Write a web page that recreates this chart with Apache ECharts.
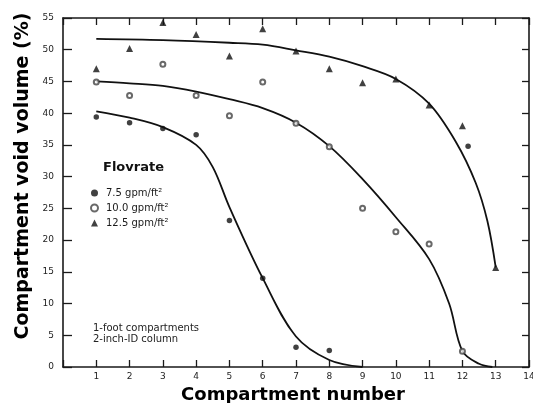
<!DOCTYPE html>
<html>
<head>
<meta charset="utf-8">
<script src="https://cdn.jsdelivr.net/npm/echarts@6/dist/echarts.min.js"></script>
<style>
  html, body { margin: 0; padding: 0; background: #fff; }
  #chart { width: 533px; height: 403px; }
</style>
</head>
<body>
<div id="chart"></div>
<script>
'use strict';

// flow rates (legend)
var seriesNames = ['7.5 gpm/ft\u00b2', '10.0 gpm/ft\u00b2', '12.5 gpm/ft\u00b2'];

// measured points [compartment, void volume %]
var pts75 = [[1, 39.4], [2, 38.5], [3, 37.6], [4, 36.6], [5, 23.1], [6, 14.0], [7, 3.1], [8, 2.6], [12.17, 34.8]];
var pts100 = [[1, 44.9], [2, 42.8], [3, 47.7], [4, 42.8], [5, 39.6], [6, 44.9], [7, 38.4], [8, 34.7],
              [9, 25.0], [10, 21.3], [11, 19.4], [12, 2.5]];
var pts125 = [[1, 47.0], [2, 50.2], [3, 54.3], [4, 52.4], [5, 49.0], [6, 53.3], [7, 49.8], [8, 47.0],
              [9, 44.8], [10, 45.4], [11, 41.3], [12, 38.0], [13, 15.7]];

// hand-drawn fitted curves
var fit75 = [[1, 40.3], [2, 39.3], [3, 37.8], [4, 35.0], [4.5, 31.5], [5, 25.2],
             [6, 14.0], [7, 4.8], [8, 1.1], [9, 0]];
var fit100 = [[1, 45.0], [2, 44.7], [3, 44.3], [4, 43.4], [5, 42.2], [6, 40.8], [7, 38.5], [8, 34.8],
              [9, 29.6], [10, 23.6], [11, 17.0], [11.6, 10.0], [12, 2.5], [12.5, 0.5], [12.9, 0]];
var fit125 = [[1, 51.7], [3, 51.5], [5, 51.1], [6, 50.8], [7, 49.9], [8, 48.9],
              [9, 47.4], [10, 45.4], [11, 41.5], [11.8, 35.5], [12.4, 29.0], [12.75, 23.0], [13, 15.7]];

var axisColor = '#1a1a1a';
var labelFont = 'DejaVu Sans';
var titleFont = 'bold 19px "DejaVu Sans"';

var myChart = echarts.init(document.getElementById('chart'), null, {renderer: 'canvas'});

function frameAxis(pos, isX) {
    var ax = {
        type: 'value',
        position: pos,
        min: 0,
        max: isX ? 14 : 55,
        interval: isX ? 1 : 5,
        axisLine: {show: true, onZero: false, lineStyle: {color: axisColor, width: 1.6}},
        axisTick: {show: true, inside: true, length: 7, lineStyle: {color: axisColor, width: 1.3}},
        axisLabel: {show: false},
        splitLine: {show: false}
    };
    return ax;
}

var xMain = frameAxis('bottom', true);
xMain.name = 'Compartment number';
xMain.nameLocation = 'middle';
xMain.nameGap = 15;
xMain.nameTextStyle = {fontFamily: 'DejaVu Sans', fontWeight: 'bold', fontSize: 18, color: '#000', padding: [0, 6, 0, 0]};
xMain.axisLabel = {
    show: true, margin: 5, fontSize: 9, fontFamily: labelFont, color: '#222',
    formatter: function (v) { return v === 0 ? '' : v; }
};

var yMain = frameAxis('left', false);
yMain.axisTick.length = 9;
yMain.axisLabel = {show: true, margin: 9, fontSize: 9, fontFamily: labelFont, color: '#222'};

function curve(data) {
    return {
        type: 'line', data: data, smooth: 0.35, showSymbol: false, silent: true,
        lineStyle: {color: '#111', width: 1.8}, z: 2
    };
}

var option = {
    backgroundColor: '#fff',
    animation: false,
    grid: {left: 63, right: 4, top: 18, bottom: 36, containLabel: false, outerBoundsMode: 'none'},
    xAxis: [xMain, frameAxis('top', true)],
    yAxis: [yMain, frameAxis('right', false)],
    legend: {
        data: seriesNames,
        orient: 'vertical',
        left: 85,
        top: 182,
        itemWidth: 7,
        itemHeight: 7,
        itemGap: 3,
        textStyle: {fontSize: 10, fontFamily: labelFont, color: '#1a1a1a', lineHeight: 12, padding: [0, 0, 0, 3]}
    },
    graphic: [
        // y axis title (sits above the plot centre in the original)
        {type: 'text', x: 23, y: 176, rotation: Math.PI / 2,
         style: {text: 'Compartment void volume (%)', font: titleFont, fill: '#000', align: 'center', verticalAlign: 'middle'}},
        {type: 'text', left: 103, top: 161, style: {text: 'Flovrate', font: 'bold 13px "DejaVu Sans"', fill: '#111'}},
        {type: 'text', left: 93, top: 323, style: {text: '1-foot compartments\n2-inch-ID column', font: '10px "DejaVu Sans"', fill: '#222', lineHeight: 11}}
    ],
    series: [
        curve(fit75),
        curve(fit100),
        curve(fit125),
        {name: seriesNames[0], type: 'scatter', data: pts75, symbol: 'circle', symbolSize: 5.5,
         itemStyle: {color: '#111'}, z: 3},
        {name: seriesNames[1], type: 'scatter', data: pts100, symbol: 'emptyCircle', symbolSize: 5,
         itemStyle: {color: '#444', borderWidth: 0.8}, z: 3},
        {name: seriesNames[2], type: 'scatter', data: pts125, symbol: 'triangle', symbolSize: 7,
         itemStyle: {color: '#111'}, z: 3}
    ]
};

myChart.setOption(option);
</script>
</body>
</html>
